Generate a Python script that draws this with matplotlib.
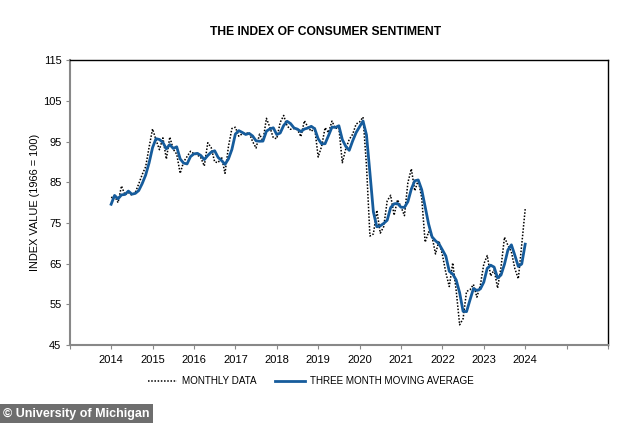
import numpy as np
import pandas as pd
import matplotlib
matplotlib.use("Agg")
import matplotlib.pyplot as plt

plt.rcParams['font.family'] = ['Liberation Sans', 'DejaVu Sans']

# two months before the window, needed for the first moving-average points
PRIOR_2013 = [75.1, 82.5]  # Nov, Dec 2013

MONTHLY = {
    2014: [81.2, 81.6, 80.0, 84.1, 81.9, 82.5, 81.8, 82.5, 84.6, 86.9, 88.8, 93.6],
    2015: [98.1, 95.4, 93.0, 95.9, 90.7, 96.1, 93.1, 91.9, 87.2, 90.0, 91.3, 92.6],
    2016: [92.0, 91.7, 91.0, 89.0, 94.7, 93.5, 90.0, 89.8, 91.2, 87.2, 93.8, 98.2],
    2017: [98.5, 96.3, 96.9, 97.0, 97.1, 95.0, 93.4, 96.8, 95.1, 100.7, 98.5, 95.9],
    2018: [95.7, 99.7, 101.4, 98.8, 98.0, 98.2, 97.9, 96.2, 100.1, 98.6, 97.5, 98.3],
    2019: [91.2, 93.8, 98.4, 97.2, 100.0, 98.2, 98.4, 89.8, 93.2, 95.5, 96.8, 99.3],
    2020: [99.8, 101.0, 89.1, 71.8, 72.3, 78.1, 72.5, 74.1, 80.4, 81.8, 76.9, 80.7],
    2021: [79.0, 76.8, 84.9, 88.3, 82.9, 85.5, 81.2, 70.3, 72.8, 71.7, 67.4, 70.6],
    2022: [67.2, 62.8, 59.4, 65.2, 58.4, 50.0, 51.5, 58.2, 58.6, 59.9, 56.8, 59.7],
    2023: [64.9, 67.0, 62.0, 63.5, 59.0, 64.2, 71.5, 69.5, 67.9, 63.8, 61.3, 69.7],
    2024: [78.4],
}

YEAR_LABELS = list(range(2014, 2025))
Y_TICKS = list(range(45, 116, 10))

values, dates = [], []
for yr, vals in MONTHLY.items():
    for m, v in enumerate(vals):
        values.append(v)
        dates.append(yr + m / 12)

full = pd.Series(PRIOR_2013 + values)
moving_avg = full.rolling(3).mean().iloc[len(PRIOR_2013):].to_numpy()

fig = plt.figure(figsize=(6.34, 4.23), dpi=100)
ax = fig.add_axes([0.110, 0.184, 0.849, 0.674])

ax.plot(dates, values, color="black", linestyle=(0, (1, 1.1)), linewidth=1.1,
        label="MONTHLY DATA")
ax.plot(dates, moving_avg, color="#165c9c", linewidth=2.0,
        label="THREE MONTH MOVING AVERAGE")

ax.set_xlim(2013, 2026)
ax.set_ylim(45, 115)
ax.set_xticks(range(2013, 2027))
ax.set_xticklabels([str(y) if y in YEAR_LABELS else "" for y in range(2013, 2027)])
ax.set_yticks(Y_TICKS)
ax.tick_params(labelsize=8, length=3, color="#888888")
ax.tick_params(axis="x", pad=4)
ax.tick_params(axis="y", pad=3)
for side in ["left", "bottom"]:
    ax.spines[side].set_color("#888888")
    ax.spines[side].set_linewidth(1.5)
for side in ["top", "right"]:
    ax.spines[side].set_color("black")
    ax.spines[side].set_linewidth(1.0)

ax.set_ylabel("INDEX VALUE (1966 = 100)", fontsize=7.9, labelpad=2)
fig.text(0.513, 0.924, "THE INDEX OF CONSUMER SENTIMENT", fontsize=8.7,
         fontweight="bold", ha="center", va="center")

fig.legend(loc="center", bbox_to_anchor=(0.49, 0.099), ncol=2, frameon=False,
           fontsize=7.1, handlelength=3.0, columnspacing=1.9, handletextpad=0.5)

fig.text(0.004, 0.022, "© University of Michigan", color="white", fontsize=9,
         fontweight="bold", va="center", ha="left",
         bbox=dict(facecolor="#6e6e6e", edgecolor="none", pad=2.5))

fig.savefig("out.png", dpi=100)
